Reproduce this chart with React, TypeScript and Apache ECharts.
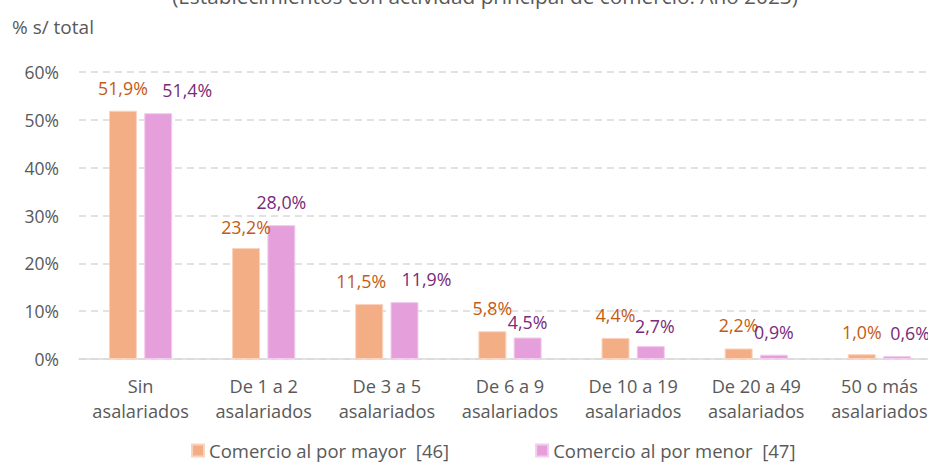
import React, { useEffect, useRef } from "react";
import * as echarts from "echarts";

const categories = [
  "Sin\nasalariados",
  "De 1 a 2\nasalariados",
  "De 3 a 5\nasalariados",
  "De 6 a 9\nasalariados",
  "De 10 a 19\nasalariados",
  "De 20 a 49\nasalariados",
  "50 o más\nasalariados",
];
const mayorValues = [51.9, 23.2, 11.5, 5.8, 4.4, 2.2, 1.0];
const menorValues = [51.4, 28.0, 11.9, 4.5, 2.7, 0.9, 0.6];
const seriesNames = ["Comercio al por mayor  [46]", "Comercio al por menor  [47]"];
const titleText = "(Establecimientos con actividad principal de comercio. Año 2023)";
const yAxisTitle = "% s/ total";

// manual nudges of the value labels (as in the reference), in pixels
const mayorLabelShift = [[0, 0], [0, 2], [-8, 0], [0, 0], [0, 0], [0, 0], [0, 1]];
const menorLabelShift = [[29, 0], [0, 0], [22, 0], [0, 8], [4, 3], [0, 0], [13, 0]];

const FONT = "'Open Sans', sans-serif";
const GRAY = "#595959";

const fmt = (v: number) => v.toFixed(1).replace(".", ",") + "%";

const withShift = (vals: number[], shifts: number[][]) =>
  vals.map((v, i) => ({ value: v, label: { offset: shifts[i] } }));

export default function App() {
  const ref = useRef<HTMLDivElement>(null);
  useEffect(() => {
    if (!ref.current) return;
    const chart = echarts.init(ref.current, null, { renderer: "svg" });
    chart.setOption({
      animation: false,
      textStyle: { fontFamily: FONT },
      graphic: [
        {
          type: "text",
          x: 485,
          y: -4,
          style: {
            text: titleText,
            fontFamily: FONT,
            fontSize: 20.8,
            fill: GRAY,
            textAlign: "center",
            textVerticalAlign: "middle",
          },
        },
        {
          type: "text",
          x: 12,
          y: 27,
          style: {
            text: yAxisTitle,
            fontFamily: FONT,
            fontSize: 19,
            fill: GRAY,
            textAlign: "left",
            textVerticalAlign: "middle",
          },
        },
      ],
      legend: {
        left: 191,
        top: 441,
        padding: 0,
        itemWidth: 12,
        itemHeight: 12,
        itemGap: 86,
        icon: "rect",
        textStyle: { fontFamily: FONT, fontSize: 18.5, color: GRAY },
        data: seriesNames,
      },
      grid: { left: 79, right: 0, top: 72, bottom: 103, containLabel: false },
      xAxis: {
        type: "category",
        data: categories,
        axisLine: { lineStyle: { color: "#D9D9D9", width: 1.5 } },
        axisTick: { show: false },
        axisLabel: {
          color: GRAY,
          fontFamily: FONT,
          fontSize: 18.2,
          lineHeight: 25,
          margin: 14,
          interval: 0,
        },
      },
      yAxis: {
        type: "value",
        min: 0,
        max: 60,
        interval: 10,
        axisLine: { show: false },
        axisTick: { show: false },
        axisLabel: {
          color: GRAY,
          fontFamily: FONT,
          fontSize: 17.5,
          margin: 20,
          formatter: (v: number) => v + "%",
        },
        splitLine: {
          lineStyle: { color: "#D9D9D9", width: 1.5, type: [7, 5] },
        },
      },
      series: [
        {
          name: seriesNames[0],
          type: "bar",
          data: withShift(mayorValues, mayorLabelShift),
          barWidth: 28,
          barGap: "26%",
          itemStyle: { color: "#F4AE86", borderColor: "#FAD3BE", borderWidth: 1 },
          label: {
            show: true,
            position: "top",
            distance: 14,
            formatter: (p: any) => fmt(p.value),
            color: "#C55A11",
            fontFamily: FONT,
            fontSize: 17.8,
          },
        },
        {
          name: seriesNames[1],
          type: "bar",
          data: withShift(menorValues, menorLabelShift),
          barWidth: 28,
          itemStyle: { color: "#E5A0DC", borderColor: "#F2CDEE", borderWidth: 1 },
          label: {
            show: true,
            position: "top",
            distance: 14,
            formatter: (p: any) => fmt(p.value),
            color: "#7A2A78",
            fontFamily: FONT,
            fontSize: 17.8,
          },
        },
      ],
    });
    return () => chart.dispose();
  }, []);
  return (
    <div
      style={{
        position: "absolute",
        left: 0,
        top: 0,
        width: 928,
        height: 462,
        overflow: "hidden",
        background: "#fff",
      }}
    >
      <div ref={ref} style={{ width: 941, height: 462 }} />
    </div>
  );
}
